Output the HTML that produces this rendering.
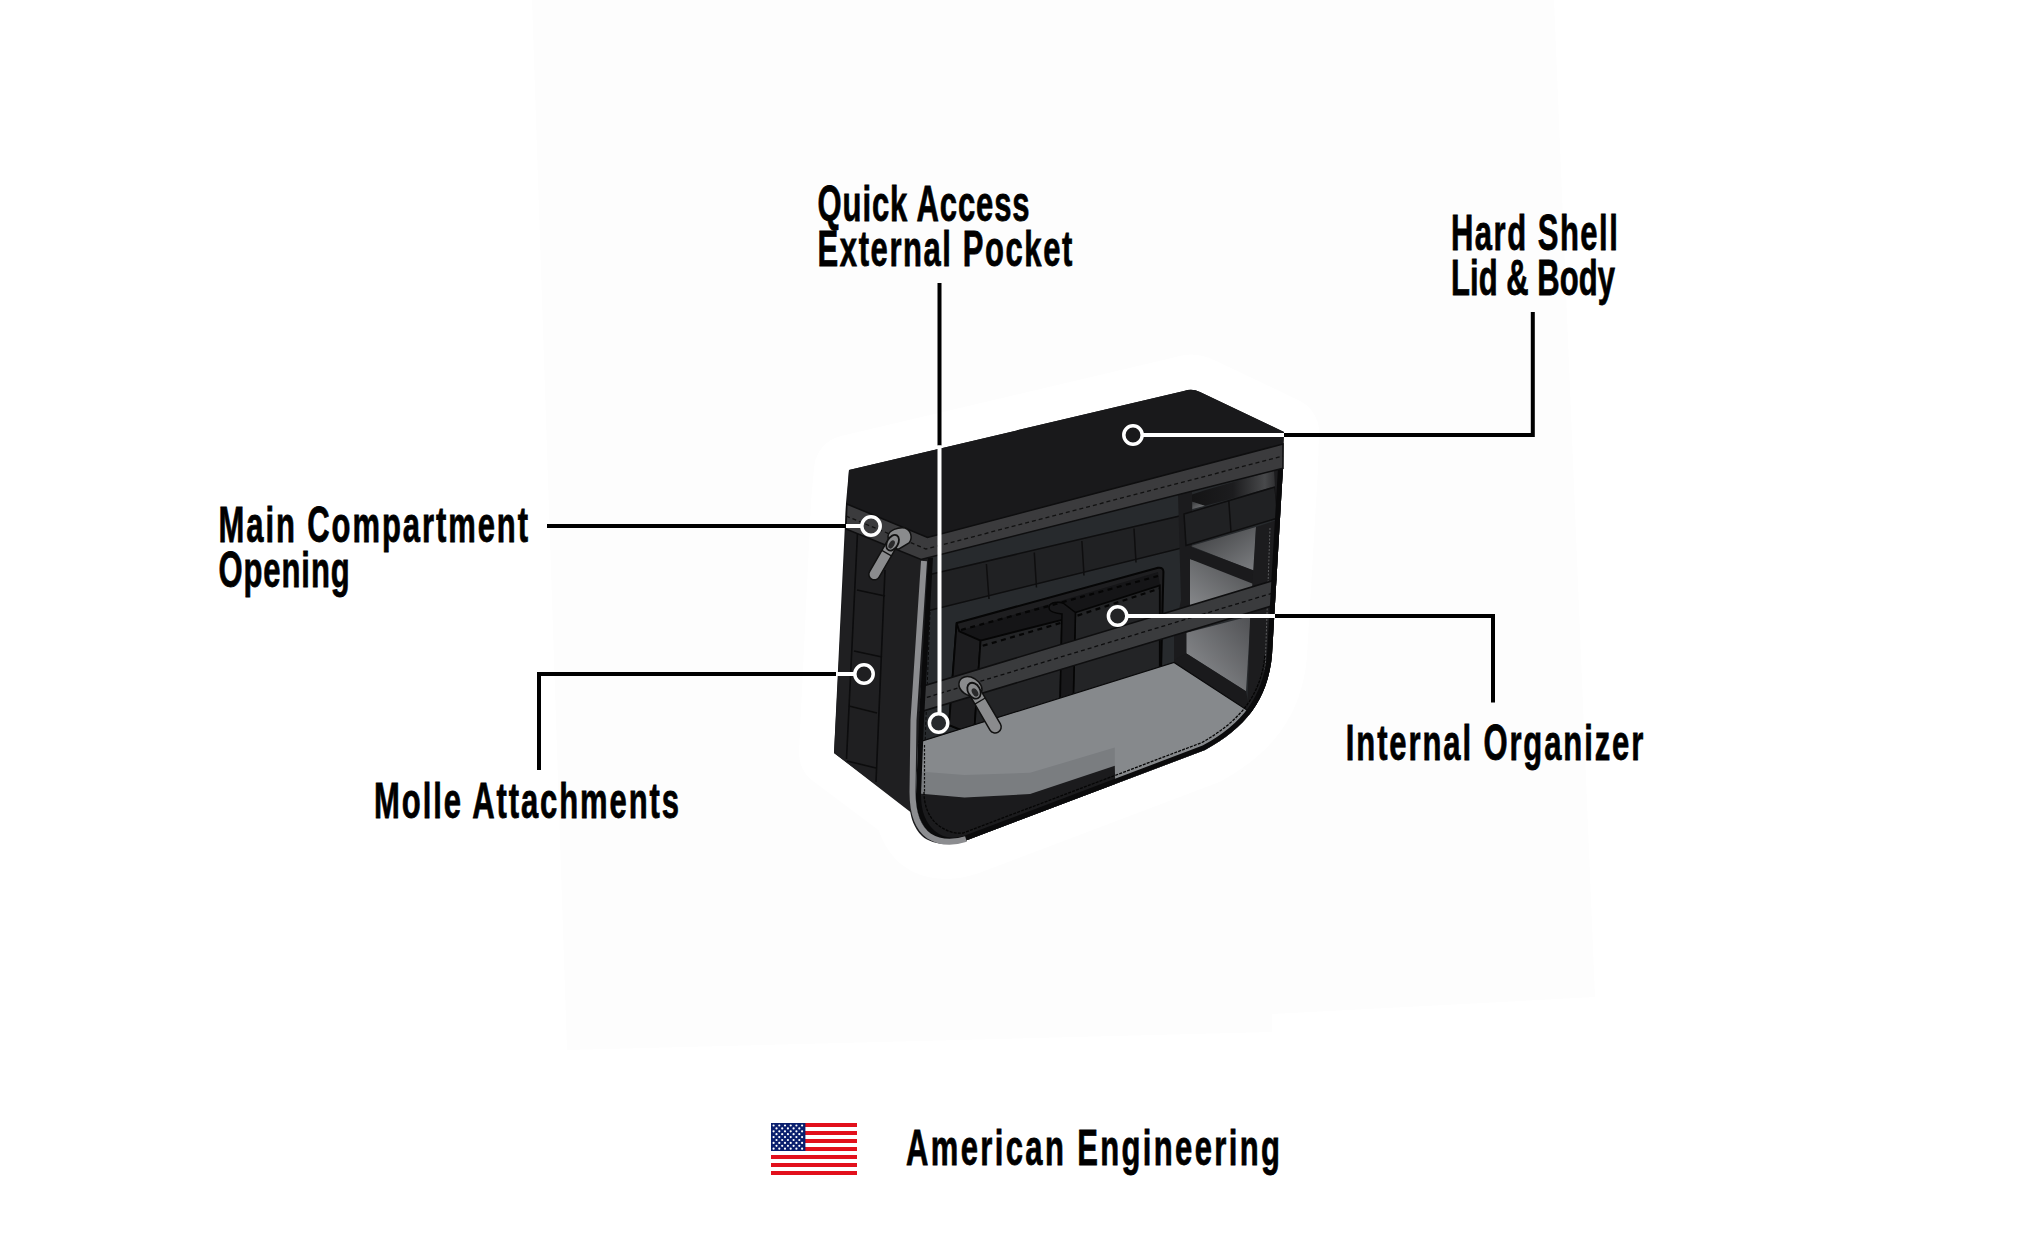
<!DOCTYPE html>
<html>
<head>
<meta charset="utf-8">
<style>
html,body{margin:0;padding:0;background:#fff;}
body{width:2044px;height:1248px;overflow:hidden;position:relative;}
svg{position:absolute;left:0;top:0;}
.t{font-family:"Liberation Sans",sans-serif;font-weight:bold;font-size:50px;fill:#000;stroke:#000;stroke-width:0.8px;}
</style>
</head>
<body>
<svg width="2044" height="1248" viewBox="0 0 2044 1248">
<path fill="#fdfdfd" d="M532 0 L1554 0 L1595 997 L1272 1014 L1272 1032 L567 1050 Z"/>

<!-- BAG -->
<g id="bag">
<defs>
  <clipPath id="frontClip">
    <path d="M928 557.5 L1283 468 L1272 655 C1268 700 1245 728 1205 750 L966 840.5 C952 845 940 842 932 835 C921 826 916 812 916 795 L919 720 Z"/>
  </clipPath>
  <linearGradient id="gP2" x1="0" y1="1" x2="1" y2="0">
    <stop offset="0" stop-color="#8e9093"/>
    <stop offset="1" stop-color="#454648"/>
  </linearGradient>
  <linearGradient id="gP1" x1="0" y1="0" x2="1" y2="1">
    <stop offset="0" stop-color="#3a3b3d"/>
    <stop offset="1" stop-color="#7d7f82"/>
  </linearGradient>
  <linearGradient id="gP3" x1="0" y1="1" x2="1" y2="0">
    <stop offset="0" stop-color="#909295"/>
    <stop offset="1" stop-color="#505154"/>
  </linearGradient>
  <linearGradient id="gBeam" x1="0" y1="0" x2="1" y2="0">
    <stop offset="0" stop-color="#141415"/>
    <stop offset="0.45" stop-color="#1c1c1e"/>
    <stop offset="0.8" stop-color="#48494b"/>
    <stop offset="1" stop-color="#1e1e20"/>
  </linearGradient>
</defs>
<path fill="#fff" stroke="#fff" stroke-width="70" stroke-linejoin="round" d="M849 470 L1184 391 Q1192 388 1200 392 L1284 432 L1283 468 L1272 655 C1268 700 1245 728 1205 750 L966 840.5 C950 846 932 845 922 836 C914 828 911 818 910 810 L834 753 L846 503 Z"/>
<!-- silhouette -->
<path fill="#1b1b1d" d="M849 470 L1184 391 Q1192 388 1200 392 L1284 432 L1283 468 L1272 655 C1268 700 1245 728 1205 750 L966 840.5 C950 846 932 845 922 836 C914 828 911 818 910 810 L834 753 L846 503 Z"/>
<!-- side face -->
<path fill="#1f1f21" d="M846 529 L921 559 L911 795 L913 814 L834 753 Z"/>
<g stroke="#0c0c0d" stroke-width="1.6" fill="none">
  <path d="M857.5 533 L846.5 759"/>
  <path d="M885 570 L876 782"/>
  <path d="M857 590 L885 596"/>
  <path d="M854 651 L882 657"/>
  <path d="M849 706 L877 713"/>
  <path d="M847 761 L876 768"/>
</g>
<!-- front panel contents -->
<g clip-path="url(#frontClip)">
  <rect x="900" y="440" width="400" height="420" fill="#272a2d"/>
  <!-- upper molle row -->
  <path fill="#202123" stroke="#0e0e0f" stroke-width="1.5" d="M915 578 L1184 515 L1186 547 L915 614 Z"/>
  <g stroke="#0e0e0f" stroke-width="1.5">
    <path d="M986.4 564 L989 599"/>
    <path d="M1034.3 552.5 L1036.5 587.5"/>
    <path d="M1081.9 541 L1084 575.5"/>
    <path d="M1134 528.5 L1136 562.5"/>
  </g>
  <!-- right compartment -->
  <path fill="#1b1b1d" d="M1178 494 L1192 490 L1192 720 L1174 720 L1174 634 L1181 600 Z"/>
  <path fill="url(#gBeam)" d="M1192 494.4 L1204.8 490.2 L1283 468 L1283 484 L1228.8 499.6 L1204.8 505.8 L1192 501.7 Z"/>
  <path fill="url(#gP1)" d="M1192.3 501.7 L1204.8 505.8 L1192.3 509 Z"/>
  <path fill="#202123" stroke="#0e0e0f" stroke-width="1.5" d="M1184 514 L1275 487 L1278 518 L1186 545.5 Z"/>
  <path stroke="#0e0e0f" stroke-width="1.5" d="M1228.8 501 L1231 532"/>
  <path fill="url(#gP1)" d="M1191 546 L1256 527 L1254 571 Z"/>
  <path fill="url(#gP2)" d="M1190 559 L1266 581 L1266 600 L1190 620 Z"/>
  <path fill="#1a1a1c" d="M1190 546.5 L1254 570.5 L1270 585 L1256 585 L1190 559 Z"/>
  <path fill="url(#gP3)" d="M1186.5 632.8 L1250.6 616 L1246 691.3 L1186.5 653.6 Z"/>
  <path fill="#1a1a1c" d="M1174 660 L1186.5 653.6 L1246 691.3 L1250 712 L1174 663 Z"/>
  <path fill="#1c1c1e" d="M1274 470 L1283 468 L1272 720 L1247 720 L1250 620 L1256 527 L1277 520 Z"/>
  <path fill="none" stroke="#5a5b5d" stroke-width="1" stroke-dasharray="2 1.5" d="M1270 528 L1264 700"/>
  <!-- back wall left stitch -->
  <path fill="none" stroke="#0a0a0b" stroke-width="1" stroke-dasharray="3 2" d="M930 612 L925 745"/>
  <!-- pouches -->
  <path fill="#1e1e20" stroke="#050505" stroke-width="2" d="M956.7 623 L1158 567.7 Q1164 567 1163.4 573 L1160.8 680 L1071 705 L973 735 L949 725 Z"/>
  <path fill="#151517" d="M959 631 L1158 572 L1160 585.4 L1075.4 612.5 L1061.9 619.8 L980.6 640.6 Z"/>
  <path fill="#1d1d1f" stroke="#050505" stroke-width="1.8" d="M956.7 623 L959.3 631.3 L980.6 640.6 L974 735 L949 725 Z"/>
  <path fill="#232426" stroke="#050505" stroke-width="1.8" d="M980.6 640.6 L1061.9 619.8 L1060 710 L974 735 Z"/>
  <path fill="#232426" stroke="#050505" stroke-width="1.8" d="M1075.4 612.5 L1159.8 585.4 L1159.8 680 L1073 705 Z"/>
  <path fill="#18181a" stroke="#050505" stroke-width="1.5" d="M1049.4 609.4 C1047 603 1056 601 1063 603 L1075.4 612.5 L1073 710 L1060 710 L1062 614 C1055 613 1050 612 1049.4 609.4 Z"/>
  <g stroke="#050505" stroke-width="2.2" stroke-dasharray="5 4.5" fill="none">
    <path d="M961 630 L1158 576"/>
    <path d="M982.7 645.8 L1060.8 622.9"/>
    <path d="M1077.5 615.6 L1159.8 588.5"/>
  </g>
  <!-- floor -->
  <path fill="#86898c" stroke="#0a0a0b" stroke-width="1.2" d="M900 748 L1174 662.5 L1250 712 L1250 860 L900 860 Z"/>
  <path fill="#7a7d80" d="M900 770 L964.5 775 L1030 772.8 L1114.8 747.6 L1114.8 765.8 L1030 794 L964.5 797.5 L900 792 Z"/>
  <path fill="#1b1b1d" d="M900 792 L964.5 797.5 L1030 794 L1114.8 765.8 L1117 860 L900 860 Z"/>
  <path fill="none" stroke="#111" stroke-width="1.2" stroke-dasharray="2.5 1.5" d="M924.5 745 L924.5 792"/>
  <!-- strap -->
  <path fill="#3a3b3d" stroke="#0e0e0f" stroke-width="1.6" d="M900 693 L1283 577.5 L1283 602.5 L900 718 Z"/>
  <path fill="none" stroke="#0d0d0e" stroke-width="1.3" stroke-dasharray="4 3" d="M900 705.5 L1283 590"/>
  <!-- inner border -->
  <path fill="none" stroke="#0a0a0b" stroke-width="10" d="M928 557.5 L919 720 L916 795 C916 812 921 826 932 835 C940 842 952 845 966 840.5 L1205 750 C1245 728 1268 700 1272 655 L1283 468"/>
  <path fill="none" stroke="#050505" stroke-width="1.3" stroke-dasharray="3 1.2" d="M924 792 C924 806 929 818 938 825 C946 831 954 834 963 833 L1202 742.5 C1238 722 1261 697 1265 655"/>
</g>
<!-- lower zipper pull -->
<g>
  <path fill="#8a8b8d" stroke="#111" stroke-width="1.5" d="M959 686 C958 679 964 675 971 677 C977 679 982 684 982 690 L979 697 C972 698 961 694 959 686 Z"/>
  <g transform="translate(973 689) rotate(-30.3)">
    <rect x="-6" y="0" width="12" height="50" rx="6" fill="#8a8b8d" stroke="#111" stroke-width="1.5"/>
    <ellipse cx="0" cy="2" rx="6" ry="8.5" fill="#8a8b8d" stroke="#111" stroke-width="1.8"/>
    <ellipse cx="0" cy="4" rx="2.8" ry="4.5" fill="#2a2a2b"/>
    <path d="M-6 14 H6" stroke="#111" stroke-width="1.2"/>
  </g>
</g>
<!-- piping -->
<path fill="none" stroke="#8c8d90" stroke-width="6" d="M924 561 L913.5 720 L912.5 792 C912.5 814 919 829 929 836 C940 843 952 843.5 966 839"/>

<!-- lid -->
<path fill="#19191b" d="M849 470 L1184 391 Q1192 388 1200 392 L1284 432 L1283 444 L927.5 537.5 L846.8 503.4 Z"/>
<!-- zipper band -->
<path fill="#3b3b3d" stroke="#0e0e0f" stroke-width="1.5" d="M846.8 504 L927.5 537.5 L1283 444 L1283 468.3 L921 559.5 L846 529 Z"/>
<path fill="none" stroke="#111" stroke-width="1.3" stroke-dasharray="4 3" d="M846 516 L926 549 L1283 456"/>
<!-- upper zipper pull -->
<g>
  <path fill="#8a8b8d" stroke="#111" stroke-width="1.5" d="M888 536 C889 530 898 527 905 528 C911 530 913 538 909 543 L899 549 C893 549 888 543 888 536 Z"/>
  <g transform="translate(893.6 541) rotate(30)">
    <rect x="-5.5" y="0" width="11" height="44" rx="5.5" fill="#8a8b8d" stroke="#111" stroke-width="1.5"/>
    <ellipse cx="0" cy="2" rx="5.5" ry="8.5" fill="#8a8b8d" stroke="#111" stroke-width="1.8"/>
    <ellipse cx="0" cy="4" rx="2.6" ry="4.5" fill="#2a2a2b"/>
    <path d="M-5.5 14 H5.5" stroke="#111" stroke-width="1.2"/>
  </g>
</g>
</g>

<!-- LEADER LINES (outside parts, black) -->
<g stroke="#000" stroke-width="4" fill="none" stroke-linecap="butt">
  <path d="M939.5 283 V445.5"/>
  <path d="M1532.8 312 V435 H1284"/>
  <path d="M547 526 H846"/>
  <path d="M539 770 V674 H836"/>
  <path d="M1493 702.5 V616 H1275"/>
</g>
<!-- LEADER LINES (inside bag, white) -->
<g stroke="#fff" stroke-width="4" fill="none">
  <path d="M939.5 445.5 V713"/>
  <path d="M1284 435 H1143"/>
  <path d="M846 526 H861.5"/>
  <path d="M836 674 H854.5"/>
  <path d="M1275 616 H1128"/>
</g>
<g stroke="#fff" stroke-width="3.5" fill="none">
  <circle cx="938.6" cy="723" r="9.2"/>
  <circle cx="1133" cy="435" r="9.2"/>
  <circle cx="871" cy="526" r="9.2"/>
  <circle cx="864" cy="674" r="9.2"/>
  <circle cx="1117.6" cy="616" r="9.2"/>
</g>

<!-- TEXT -->
<g class="tx">
  <text class="t" transform="translate(817.6 220.6) scale(0.62 1)" textLength="341.9" lengthAdjust="spacing">Quick Access</text>
  <text class="t" transform="translate(817.6 266.2) scale(0.62 1)" textLength="410.8" lengthAdjust="spacing">External Pocket</text>
  <text class="t" transform="translate(1451.0 250.0) scale(0.62 1)" textLength="269.0" lengthAdjust="spacing">Hard Shell</text>
  <text class="t" transform="translate(1451.0 295.3) scale(0.62 1)" textLength="264.5" lengthAdjust="spacing">Lid &amp; Body</text>
  <text class="t" transform="translate(218.5 542.0) scale(0.62 1)" textLength="499.2" lengthAdjust="spacing">Main Compartment</text>
  <text class="t" transform="translate(218.5 586.9) scale(0.62 1)" textLength="211.6" lengthAdjust="spacing">Opening</text>
  <text class="t" transform="translate(374.1 817.7) scale(0.62 1)" textLength="491.8" lengthAdjust="spacing">Molle Attachments</text>
  <text class="t" transform="translate(1345.8 759.8) scale(0.62 1)" textLength="479.7" lengthAdjust="spacing">Internal Organizer</text>
  <text class="t" transform="translate(906.0 1164.6) scale(0.62 1)" textLength="603.2" lengthAdjust="spacing">American Engineering</text>
</g>

<!-- FLAG -->
<g id="flag">
  <rect x="771" y="1123" width="86" height="52" fill="#fff"/>
  <g fill="#e2101c"><rect x="771" y="1123.0" width="86" height="4" /><rect x="771" y="1131.0" width="86" height="4" /><rect x="771" y="1139.0" width="86" height="4" /><rect x="771" y="1147.0" width="86" height="4" /><rect x="771" y="1155.0" width="86" height="4" /><rect x="771" y="1163.0" width="86" height="4" /><rect x="771" y="1171.0" width="86" height="4" /></g>
  <rect x="771" y="1123" width="34.4" height="28" fill="#0a1f6e"/>
  <g fill="#fff"><circle cx="773.6" cy="1125.5" r="1.1"/><circle cx="779.3" cy="1125.5" r="1.1"/><circle cx="785.0" cy="1125.5" r="1.1"/><circle cx="790.7" cy="1125.5" r="1.1"/><circle cx="796.4" cy="1125.5" r="1.1"/><circle cx="802.1" cy="1125.5" r="1.1"/><circle cx="776.5" cy="1128.4" r="1.1"/><circle cx="782.2" cy="1128.4" r="1.1"/><circle cx="787.9" cy="1128.4" r="1.1"/><circle cx="793.6" cy="1128.4" r="1.1"/><circle cx="799.3" cy="1128.4" r="1.1"/><circle cx="773.6" cy="1131.3" r="1.1"/><circle cx="779.3" cy="1131.3" r="1.1"/><circle cx="785.0" cy="1131.3" r="1.1"/><circle cx="790.7" cy="1131.3" r="1.1"/><circle cx="796.4" cy="1131.3" r="1.1"/><circle cx="802.1" cy="1131.3" r="1.1"/><circle cx="776.5" cy="1134.2" r="1.1"/><circle cx="782.2" cy="1134.2" r="1.1"/><circle cx="787.9" cy="1134.2" r="1.1"/><circle cx="793.6" cy="1134.2" r="1.1"/><circle cx="799.3" cy="1134.2" r="1.1"/><circle cx="773.6" cy="1137.1" r="1.1"/><circle cx="779.3" cy="1137.1" r="1.1"/><circle cx="785.0" cy="1137.1" r="1.1"/><circle cx="790.7" cy="1137.1" r="1.1"/><circle cx="796.4" cy="1137.1" r="1.1"/><circle cx="802.1" cy="1137.1" r="1.1"/><circle cx="776.5" cy="1140.0" r="1.1"/><circle cx="782.2" cy="1140.0" r="1.1"/><circle cx="787.9" cy="1140.0" r="1.1"/><circle cx="793.6" cy="1140.0" r="1.1"/><circle cx="799.3" cy="1140.0" r="1.1"/><circle cx="773.6" cy="1142.9" r="1.1"/><circle cx="779.3" cy="1142.9" r="1.1"/><circle cx="785.0" cy="1142.9" r="1.1"/><circle cx="790.7" cy="1142.9" r="1.1"/><circle cx="796.4" cy="1142.9" r="1.1"/><circle cx="802.1" cy="1142.9" r="1.1"/><circle cx="776.5" cy="1145.8" r="1.1"/><circle cx="782.2" cy="1145.8" r="1.1"/><circle cx="787.9" cy="1145.8" r="1.1"/><circle cx="793.6" cy="1145.8" r="1.1"/><circle cx="799.3" cy="1145.8" r="1.1"/><circle cx="773.6" cy="1148.7" r="1.1"/><circle cx="779.3" cy="1148.7" r="1.1"/><circle cx="785.0" cy="1148.7" r="1.1"/><circle cx="790.7" cy="1148.7" r="1.1"/><circle cx="796.4" cy="1148.7" r="1.1"/><circle cx="802.1" cy="1148.7" r="1.1"/></g>
</g>
</svg>
</body>
</html>
